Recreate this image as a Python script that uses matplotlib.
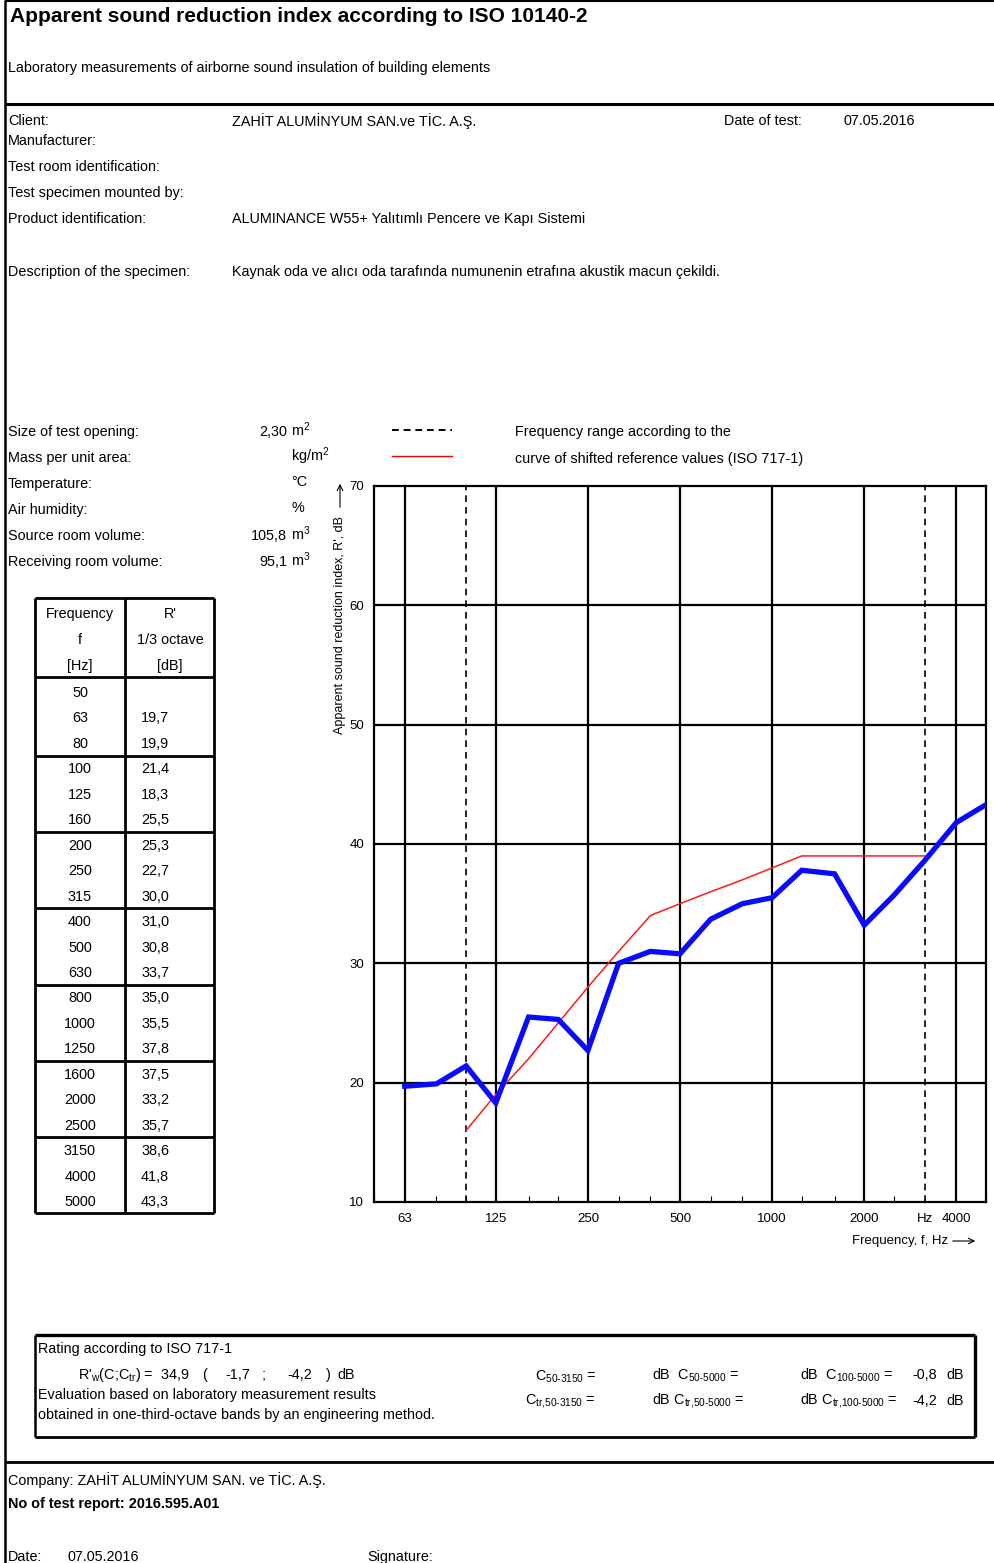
import matplotlib.pyplot as plt
from matplotlib.ticker import FixedLocator, NullFormatter

plt.rcParams['font.family'] = ['Liberation Sans', 'DejaVu Sans']
plt.rcParams['mathtext.fontset'] = 'custom'
plt.rcParams['mathtext.rm'] = 'Liberation Sans'
plt.rcParams['mathtext.it'] = 'Liberation Sans'

# measured values, one-third-octave bands
freqs = [50, 63, 80, 100, 125, 160, 200, 250, 315, 400, 500, 630,
         800, 1000, 1250, 1600, 2000, 2500, 3150, 4000, 5000]
r_values = [None, 19.7, 19.9, 21.4, 18.3, 25.5, 25.3, 22.7, 30.0, 31.0, 30.8,
            33.7, 35.0, 35.5, 37.8, 37.5, 33.2, 35.7, 38.6, 41.8, 43.3]
r_labels = ['', '19,7', '19,9', '21,4', '18,3', '25,5', '25,3', '22,7', '30,0',
            '31,0', '30,8', '33,7', '35,0', '35,5', '37,8', '37,5', '33,2',
            '35,7', '38,6', '41,8', '43,3']

# shifted reference curve (ISO 717-1)
ref_freqs = [100, 125, 160, 200, 250, 315, 400, 500, 630, 800, 1000,
             1250, 1600, 2000, 2500, 3150]
ref_values = [16, 19, 22, 25, 28, 31, 34, 35, 36, 37, 38, 39, 39, 39, 39, 39]

range_freqs = [100, 3150]
grid_freqs = [63, 125, 250, 500, 1000, 2000, 4000]
tick_freqs = [63, 125, 250, 500, 1000, 2000, 3150, 4000]
tick_labels = ['63', '125', '250', '500', '1000', '2000', 'Hz', '4000']
y_ticks = [10, 20, 30, 40, 50, 60, 70]

W, H = 995, 1563
fig = plt.figure(figsize=(W / 100, H / 100), dpi=100)

# page overlay in pixel coordinates
pg = fig.add_axes([0, 0, 1, 1])
pg.set_xlim(0, W)
pg.set_ylim(H, 0)
pg.axis('off')

FS = 10.4


def txt(x, y, s, **kw):
    kw.setdefault('fontsize', FS)
    kw.setdefault('va', 'center')
    pg.text(x, y + 1, s, **kw)


def line(x0, y0, x1, y1, lw=1.5, **kw):
    pg.plot([x0, x1], [y0, y1], color='black', lw=lw, solid_capstyle='butt', **kw)


# frame lines
line(5, 0, 5, H, lw=1.8)
line(5, 1, W, 1, lw=1.5)
line(5, 104, W, 104, lw=2.2)
line(5, 1462, W, 1462, lw=2.0)

# header
txt(10, 15, 'Apparent sound reduction index according to ISO 10140-2',
    fontsize=15, fontweight='bold')
txt(8, 67, 'Laboratory measurements of airborne sound insulation of building elements')

txt(8, 120, 'Client:')
txt(232, 120, 'ZAHİT ALUMİNYUM SAN.ve TİC. A.Ş.')
txt(724, 120, 'Date of test:')
txt(843, 120, '07.05.2016')
txt(8, 140, 'Manufacturer:')
txt(8, 166, 'Test room identification:')
txt(8, 192, 'Test specimen mounted by:')
txt(8, 218, 'Product identification:')
txt(232, 218, 'ALUMINANCE W55+ Yalıtımlı Pencere ve Kapı Sistemi')
txt(8, 271, 'Description of the specimen:')
txt(232, 271, 'Kaynak oda ve alıcı oda tarafında numunenin etrafına akustik macun çekildi.')

# test conditions
cond = [('Size of test opening:', '2,30', r'm$^2$'),
        ('Mass per unit area:', '', r'kg/m$^2$'),
        ('Temperature:', '', '°C'),
        ('Air humidity:', '', '%'),
        ('Source room volume:', '105,8', r'm$^3$'),
        ('Receiving room volume:', '95,1', r'm$^3$')]
for i, (lab, val, unit) in enumerate(cond):
    y = 431 + i * 26
    txt(8, y, lab)
    txt(287, y, val, ha='right')
    txt(291, y - 2, unit)

# legend
line(392, 430, 452, 430, lw=1.4, ls=(0, (3.5, 2.5)))
pg.plot([392, 452], [456, 456], color='red', lw=1.0)
txt(515, 431, 'Frequency range according to the')
txt(515, 458, 'curve of shifted reference values (ISO 717-1)')

# table
tx0, tx1, tmid = 35, 214, 125
line(tx0, 598, tx1, 598, lw=2)
line(tx0, 677, tx1, 677, lw=2)
line(tx0, 1213, tx1, 1213, lw=2)
line(tx0, 598, tx0, 1213, lw=2)
line(tx1, 598, tx1, 1213, lw=2)
line(tmid, 598, tmid, 1213, lw=2)
for j, s in enumerate(['Frequency', 'f', '[Hz]']):
    txt(80, 613 + j * 26, s, ha='center')
for j, s in enumerate(["R'", '1/3 octave', '[dB]']):
    txt(170, 613 + j * 26, s, ha='center')
row_h = (1201 - 692) / 20
for i, (f, lab) in enumerate(zip(freqs, r_labels)):
    y = 692 + i * row_h
    txt(80, y, str(f), ha='center')
    txt(141, y, lab)
    if i % 3 == 2 and i < len(freqs) - 1:
        yl = y + row_h / 2
        line(tx0, yl, tx1, yl, lw=2)

# chart
ax_l, ax_r, ax_t, ax_b = 374, 986, 486, 1202
ax = fig.add_axes([ax_l / W, 1 - ax_b / H, (ax_r - ax_l) / W, (ax_b - ax_t) / H])
ax.set_xscale('log')
ax.set_xlim(50, 5000)
ax.set_ylim(10, 70)

for f in grid_freqs:
    ax.axvline(f, color='black', lw=1.6, zorder=1)
for f in range_freqs:
    ax.axvline(f, color='black', lw=1.2, ls=(0, (4, 3)), zorder=1)
for v in y_ticks[1:-1]:
    ax.axhline(v, color='black', lw=1.6, zorder=1)

ax.plot(ref_freqs, ref_values, color='#ff1a1a', lw=1.1, zorder=3)
mf = [f for f, r in zip(freqs, r_values) if r is not None]
mr = [r for r in r_values if r is not None]
ax.plot(mf, mr, color='#0a0aff', lw=3.8, zorder=4, solid_joinstyle='miter')

ax.xaxis.set_major_locator(FixedLocator(tick_freqs))
ax.set_xticklabels(tick_labels)
ax.xaxis.set_minor_locator(FixedLocator(freqs))
ax.xaxis.set_minor_formatter(NullFormatter())
ax.tick_params(axis='x', which='major', length=0, pad=8, labelsize=9.5)
ax.tick_params(axis='x', which='minor', direction='in', length=4, width=0.8)
ax.set_yticks(y_ticks)
ax.tick_params(axis='y', length=0, pad=7, labelsize=9.5)
for s in ax.spines.values():
    s.set_linewidth(1.6)

# axis titles with arrows
txt(340, 733, "Apparent sound reduction index, R', dB", rotation=90,
    ha='center', va='bottom', fontsize=9)
pg.annotate('', xy=(340, 481), xytext=(340, 510),
            arrowprops=dict(arrowstyle='->', lw=0.8, color='black'))
txt(948, 1240, 'Frequency, f, Hz', ha='right', fontsize=9.5)
pg.annotate('', xy=(978, 1241), xytext=(950, 1241),
            arrowprops=dict(arrowstyle='->', lw=0.8, color='black'))

# rating box
line(35, 1335, 975, 1335, lw=2.4)
line(975, 1335, 975, 1437, lw=2.4)
line(35, 1437, 975, 1437, lw=2.0)
line(35, 1335, 35, 1437, lw=1.8)
txt(38, 1348, 'Rating according to ISO 717-1')
txt(78, 1374, r"R'$_{\text{w}}$(C;C$_{\text{tr}}$) =  34,9")
for xx, s in [(202, '('), (225, '-1,7'), (262, ';'), (287, '-4,2'), (326, ')'), (337, 'dB')]:
    txt(xx, 1374, s)
txt(38, 1394, 'Evaluation based on laboratory measurement results')
txt(38, 1414, 'obtained in one-third-octave bands by an engineering method.')
txt(535, 1376, r'C$_{\text{50-3150}}$ =')
txt(652, 1374, r'dB  C$_{\text{50-5000}}$ =')
txt(800, 1374, r'dB  C$_{\text{100-5000}}$ =')
txt(525, 1400, r'C$_{\text{tr,50-3150}}$ =')
txt(652, 1400, r'dB C$_{\text{tr,50-5000}}$ =')
txt(800, 1400, r'dB C$_{\text{tr,100-5000}}$ =')
for yy, v in [(1374, '-0,8'), (1400, '-4,2')]:
    txt(912, yy, v)
    txt(946, yy, 'dB')

# footer
txt(8, 1479, 'Company: ZAHİT ALUMİNYUM SAN. ve TİC. A.Ş.')
txt(8, 1503, 'No of test report: 2016.595.A01', fontweight='bold')
txt(8, 1556, 'Date:')
txt(68, 1556, '07.05.2016')
txt(367, 1556, 'Signature:')

fig.savefig('out.png', dpi=100)
